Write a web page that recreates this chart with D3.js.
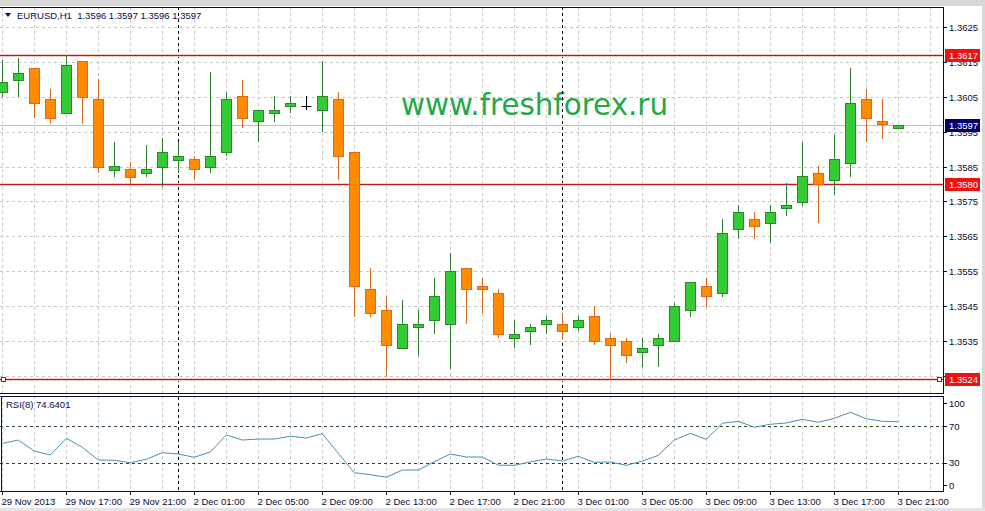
<!DOCTYPE html>
<html><head><meta charset="utf-8">
<script src="https://cdn.jsdelivr.net/npm/d3@7/dist/d3.min.js"></script>
<style>html,body{margin:0;padding:0;background:#fff;overflow:hidden}svg{display:block}</style>
</head><body>
<svg id="c" width="985" height="511"></svg>
<script>
// ---- data ----
const symbol = "EURUSD,H1";
const lastQuote = ["1.3596", "1.3597", "1.3596", "1.3597"];
const open  = [1.36063,1.36099,1.36132,1.36043,1.36003,1.36152,1.36043,1.35841,1.35842,1.35830,1.35850,1.35870,1.35871,1.35850,1.35891,1.36051,1.35979,1.36002,1.36023,1.36022,1.36011,1.36043,1.35891,1.35499,1.35438,1.35329,1.35389,1.35410,1.35400,1.35559,1.35508,1.35489,1.35358,1.35378,1.35399,1.35400,1.35389,1.35422,1.35358,1.35349,1.35318,1.35338,1.35349,1.35438,1.35508,1.35489,1.35670,1.35699,1.35689,1.35730,1.35749,1.35830,1.35811,1.35861,1.36043,1.35980,1.35960];
const high  = [1.36155,1.36162,1.36132,1.36072,1.36169,1.36152,1.36100,1.35921,1.35862,1.35912,1.35931,1.35919,1.35881,1.36120,1.36063,1.36099,1.36011,1.36052,1.36052,1.36052,1.36152,1.36063,1.35891,1.35559,1.35479,1.35469,1.35439,1.35530,1.35601,1.35559,1.35530,1.35499,1.35411,1.35400,1.35422,1.35430,1.35422,1.35450,1.35369,1.35358,1.35358,1.35369,1.35458,1.35518,1.35530,1.35699,1.35739,1.35719,1.35739,1.35802,1.35921,1.35851,1.35940,1.36132,1.36072,1.36043,1.35970];
const low   = [1.36050,1.36050,1.35989,1.35971,1.36000,1.35971,1.35830,1.35821,1.35800,1.35821,1.35791,1.35830,1.35811,1.35830,1.35879,1.35959,1.35919,1.35978,1.36002,1.36011,1.35950,1.35811,1.35420,1.35420,1.35248,1.35329,1.35308,1.35369,1.35269,1.35400,1.35430,1.35358,1.35329,1.35339,1.35369,1.35353,1.35378,1.35339,1.35238,1.35288,1.35276,1.35276,1.35349,1.35420,1.35448,1.35477,1.35642,1.35642,1.35630,1.35709,1.35737,1.35689,1.35769,1.35821,1.35919,1.35929,1.35960];
const close = [1.36091,1.36119,1.36031,1.35990,1.36140,1.36050,1.35849,1.35851,1.35821,1.35843,1.35892,1.35881,1.35842,1.35881,1.36043,1.35990,1.36011,1.36011,1.36031,1.36022,1.36051,1.35879,1.35508,1.35430,1.35338,1.35400,1.35400,1.35478,1.35550,1.35498,1.35498,1.35369,1.35369,1.35389,1.35410,1.35378,1.35410,1.35349,1.35338,1.35309,1.35329,1.35358,1.35450,1.35518,1.35478,1.35659,1.35719,1.35679,1.35719,1.35739,1.35822,1.35801,1.35871,1.36031,1.35990,1.35971,1.35970];
const rsi = [51.1,54.7,42.7,38.4,56.6,46.8,32.9,32.6,30.0,33.7,40.9,39.5,35.9,41.7,60.2,54.7,55.8,55.8,58.8,56.9,61.6,40.2,19.1,16.9,14.1,22.0,22.0,31.1,39.5,36.2,36.2,27.3,27.1,30.8,34.0,31.8,37.0,30.4,30.8,27.1,31.8,38.0,54.7,62.0,55.5,73.0,75.1,68.6,71.9,73.3,77.3,74.0,78.4,84.9,78.0,75.1,74.6];
const rsiLabel = "RSI(8) 74.6401";
const timeLabels = ["29 Nov 2013","29 Nov 17:00","29 Nov 21:00","2 Dec 01:00","2 Dec 05:00","2 Dec 09:00","2 Dec 13:00","2 Dec 17:00","2 Dec 21:00","3 Dec 01:00","3 Dec 05:00","3 Dec 09:00","3 Dec 13:00","3 Dec 17:00","3 Dec 21:00"];
const priceTicks = [1.3625,1.3615,1.3605,1.3595,1.3585,1.3575,1.3565,1.3555,1.3545,1.3535,1.3525];
const rsiTicks = [100,70,30,0];
const rsiLevels = [70,30];
const hLines = [1.3617,1.3580,1.3524];
const currentPrice = 1.3597;
const daySeparators = [11,35];
const watermark = "www.freshforex.ru";

// ---- layout ----
const svg = d3.select("#c");
const L = 0, R = 943, T = 7, B = 393, RT = 396, RB = 491;
const n = open.length;
const x = d3.scaleLinear().domain([0, 56]).range([2.3, 898.3]);
const y = d3.scaleLinear().domain([1.35204, 1.36307]).range([392, 7]);
const yr = d3.scaleLinear().domain([0, 100]).range([490.2, 398.5]);
const font = "'Liberation Sans', Arial, sans-serif";

// backgrounds
svg.append("rect").attr("x",0).attr("y",0).attr("width",985).attr("height",511).attr("fill","#fff");
svg.append("rect").attr("x",0).attr("y",0).attr("width",985).attr("height",6).attr("fill","#d8d8d8");
svg.append("rect").attr("x",982).attr("y",0).attr("width",3).attr("height",511).attr("fill","#d8d8d8");
svg.append("rect").attr("x",0).attr("y",508).attr("width",985).attr("height",3).attr("fill","#e4e4e4");

const grid = svg.append("g").attr("stroke","#c8c8c8").attr("stroke-dasharray","3,3").attr("stroke-width",1);
const vIdx = d3.range(0, 59, 2);
vIdx.forEach(i => {
  const xx = Math.round(x(i)) + 0.5;
  grid.append("line").attr("x1",xx).attr("x2",xx).attr("y1",T).attr("y2",B);
  grid.append("line").attr("x1",xx).attr("x2",xx).attr("y1",RT).attr("y2",RB);
});
priceTicks.forEach(p => {
  const yy = Math.round(y(p)) + 0.5;
  grid.append("line").attr("x1",L).attr("x2",R).attr("y1",yy).attr("y2",yy);
});

// watermark
svg.append("text").attr("x",401).attr("y",115).attr("font-family","'DejaVu Sans', Verdana, sans-serif")
  .attr("font-size",31).attr("fill","#25a84a").attr("textLength",267).attr("lengthAdjust","spacingAndGlyphs").text(watermark);

// current price line
svg.append("line").attr("x1",L).attr("x2",R).attr("y1",Math.round(y(currentPrice))+0.5).attr("y2",Math.round(y(currentPrice))+0.5)
  .attr("stroke","#c0c0c0").attr("stroke-width",1);

// RSI levels
rsiLevels.forEach(v => {
  const yy = Math.round(yr(v)) + 0.5;
  svg.append("line").attr("x1",L).attr("x2",R).attr("y1",yy).attr("y2",yy)
    .attr("stroke","#2a4a2a").attr("stroke-dasharray","3,3").attr("stroke-width",1);
});

// day separators
daySeparators.forEach(i => {
  const xx = Math.round(x(i)) + 0.5;
  svg.append("line").attr("x1",xx).attr("x2",xx).attr("y1",T).attr("y2",RB)
    .attr("stroke","#000").attr("stroke-dasharray","3,3").attr("stroke-width",1);
});

// horizontal red lines
hLines.forEach(p => {
  const yy = Math.round(y(p)) + 0.5;
  svg.append("line").attr("x1",L).attr("x2",R).attr("y1",yy).attr("y2",yy)
    .attr("stroke","#f4c8c8").attr("stroke-width",3);
  svg.append("line").attr("x1",L).attr("x2",R).attr("y1",yy).attr("y2",yy)
    .attr("stroke","#c41818").attr("stroke-width",1);
});
[3.5, 939.5].forEach(xx => {
  svg.append("rect").attr("x",xx-2).attr("y",Math.round(y(1.3524))-2+0.5).attr("width",4).attr("height",4)
    .attr("fill","#fff").attr("stroke","#a01818").attr("stroke-width",1);
});

// candles
const cg = svg.append("g");
for (let i = 0; i < n; i++) {
  const xx = Math.round(x(i)) + 0.5;
  const up = close[i] > open[i], doji = close[i] === open[i];
  const wickCol = doji ? "#000" : (up ? "#2d7d2d" : "#d9661c");
  cg.append("line").attr("x1",xx).attr("x2",xx).attr("y1",Math.round(y(high[i]))).attr("y2",Math.round(y(low[i])))
    .attr("stroke",wickCol).attr("stroke-width",1);
  if (doji) {
    const yy = Math.round(y(open[i])) + 0.5;
    cg.append("line").attr("x1",xx-5).attr("x2",xx+5).attr("y1",yy).attr("y2",yy).attr("stroke","#000");
  } else {
    const y1 = Math.round(y(Math.max(open[i], close[i])));
    const y2 = Math.round(y(Math.min(open[i], close[i])));
    cg.append("rect").attr("x",xx-5).attr("y",y1+0.5).attr("width",10).attr("height",Math.max(1,y2-y1))
      .attr("fill", up ? "#33cc33" : "#ff8c00").attr("stroke", up ? "#2a8a2a" : "#dd6a18").attr("stroke-width",1);
  }
}

// RSI line
const line = d3.line().x((d,i) => x(i)).y(d => yr(d));
svg.append("path").datum(rsi).attr("d",line).attr("fill","none").attr("stroke","#4a8fb5").attr("stroke-width",1);

// panel borders
const border = "#0a0a40";
svg.append("line").attr("x1",0).attr("x2",R).attr("y1",T+0.5).attr("y2",T+0.5).attr("stroke",border);
svg.append("line").attr("x1",0).attr("x2",R).attr("y1",B+0.5).attr("y2",B+0.5).attr("stroke",border);
svg.append("line").attr("x1",0).attr("x2",R).attr("y1",RT+0.5).attr("y2",RT+0.5).attr("stroke",border);
svg.append("line").attr("x1",0).attr("x2",R).attr("y1",RB+0.5).attr("y2",RB+0.5).attr("stroke",border);
svg.append("line").attr("x1",R+0.5).attr("x2",R+0.5).attr("y1",T).attr("y2",B+1).attr("stroke",border);
svg.append("line").attr("x1",R+0.5).attr("x2",R+0.5).attr("y1",RT).attr("y2",RB+1).attr("stroke",border);
svg.append("line").attr("x1",1.5).attr("x2",1.5).attr("y1",RT).attr("y2",RB+1).attr("stroke",border);

// price axis labels
const ax = svg.append("g").attr("font-family",font).attr("font-size",9.5).attr("fill","#0a0a30");
priceTicks.forEach(p => {
  const yy = Math.round(y(p)) + 0.5;
  ax.append("line").attr("x1",R).attr("x2",R+4).attr("y1",yy).attr("y2",yy).attr("stroke",border);
  ax.append("text").attr("x",949).attr("y",yy+3.5).text(p.toFixed(4));
});
const boxes = hLines.map(p => ({p, col:"#ee1111"})).concat([{p:currentPrice, col:"#000070"}]);
boxes.forEach(b => {
  const yy = Math.round(y(b.p));
  svg.append("rect").attr("x",945).attr("y",yy-6).attr("width",35).attr("height",13).attr("fill",b.col);
  svg.append("text").attr("x",949).attr("y",yy+4).attr("font-family",font).attr("font-size",9.5)
    .attr("fill","#fff").text(b.p.toFixed(4));
});

// RSI axis labels
rsiTicks.forEach(v => {
  const yy = Math.max(RT + 7, Math.min(RB - 6, yr(v)));
  ax.append("line").attr("x1",R).attr("x2",R+4).attr("y1",Math.round(yy)+0.5).attr("y2",Math.round(yy)+0.5).attr("stroke",border);
  ax.append("text").attr("x",949).attr("y",yy+3.5).text(v);
});

// time axis
timeLabels.forEach((t, k) => {
  const xx = Math.round(x(k*4)) + 0.5;
  ax.append("line").attr("x1",xx).attr("x2",xx).attr("y1",RB).attr("y2",RB+4).attr("stroke",border);
  ax.append("text").attr("x",xx-1).attr("y",505).text(t);
});

// header
svg.append("path").attr("d","M5,13 L11,13 L8,17 Z").attr("fill","#0a0a50");
svg.append("text").attr("x",17).attr("y",19).attr("font-family",font).attr("font-size",9.5).attr("fill","#0a0a50")
  .attr("xml:space","preserve").style("white-space","pre").text(symbol + "  " + lastQuote.join(" "));
svg.append("text").attr("x",6).attr("y",408).attr("font-family",font).attr("font-size",9.5).attr("fill","#0a0a50").text(rsiLabel);
</script>
</body></html>
